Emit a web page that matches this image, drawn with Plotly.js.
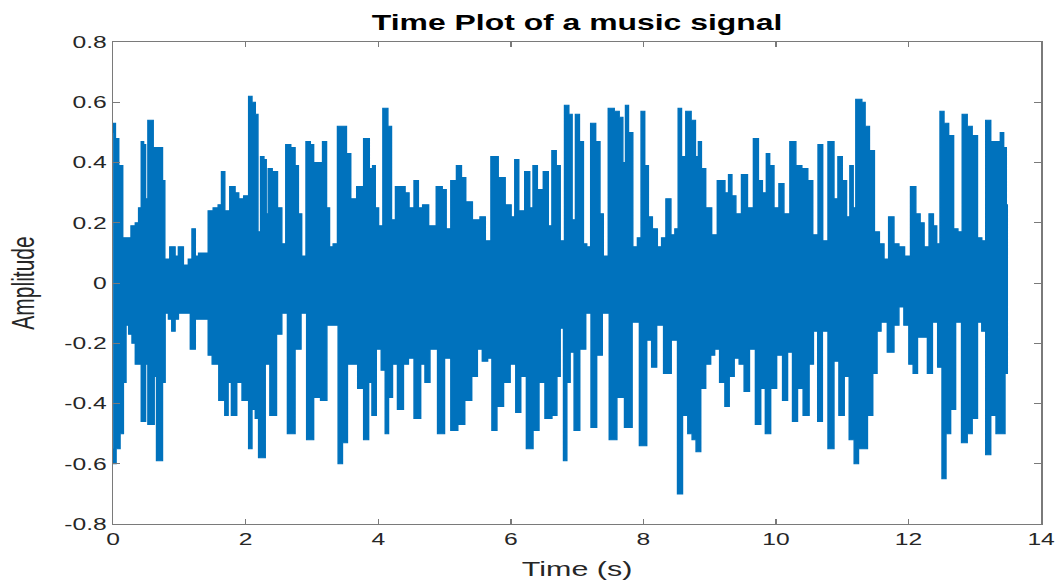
<!DOCTYPE html>
<html>
<head>
<meta charset="utf-8">
<script src="https://cdn.plot.ly/plotly-3.0.1.min.js"></script>
<style>
  html, body { margin: 0; padding: 0; background: #ffffff; overflow: hidden; }
  #wrap { width: 1057px; height: 582px; overflow: hidden; }
  #plot { width: 729px; height: 582px; transform-origin: 0 0; transform: scaleX(1.45); }
</style>
</head>
<body>
<div id="wrap"><div id="plot"></div></div>
<script>
// Upper envelope of the music signal (time in s, amplitude)
const tUpper = [0.00,0.01,0.06,0.11,0.18,0.23,0.31,0.36,0.41,0.44,0.48,0.50,0.55,0.58,0.63,0.68,0.73,0.76,0.80,0.91,0.96,1.01,1.11,1.16,1.22,1.26,1.32,1.41,1.46,1.56,1.61,1.66,1.71,1.81,1.87,1.92,2.02,2.07,2.12,2.17,2.20,2.25,2.30,2.32,2.36,2.44,2.52,2.57,2.64,2.72,2.77,2.82,2.87,2.95,3.00,3.05,3.12,3.20,3.24,3.29,3.35,3.42,3.49,3.55,3.62,3.73,3.83,3.90,3.93,3.98,4.03,4.11,4.18,4.22,4.30,4.35,4.38,4.43,4.50,4.58,4.63,4.71,4.81,4.94,4.99,5.06,5.13,5.23,5.28,5.36,5.48,5.59,5.64,5.76,5.86,5.97,6.04,6.08,6.16,6.26,6.31,6.36,6.44,6.54,6.59,6.65,6.72,6.77,6.85,6.90,6.95,7.00,7.07,7.12,7.17,7.24,7.32,7.37,7.42,7.52,7.60,7.67,7.71,7.75,7.80,7.88,7.94,7.99,8.05,8.10,8.17,8.25,8.30,8.38,8.45,8.50,8.55,8.60,8.68,8.76,8.81,8.85,8.90,8.98,9.08,9.15,9.20,9.26,9.31,9.36,9.43,9.53,9.61,9.71,9.76,9.83,9.88,9.93,10.01,10.08,10.16,10.26,10.34,10.44,10.52,10.59,10.68,10.73,10.84,10.91,10.96,11.04,11.09,11.14,11.19,11.22,11.27,11.32,11.37,11.45,11.52,11.60,11.66,11.74,11.82,11.89,11.99,12.07,12.15,12.20,12.27,12.35,12.40,12.45,12.50,12.57,12.64,12.72,12.77,12.85,12.92,13.00,13.08,13.13,13.20,13.28,13.36,13.41,13.46,13.49];
const ampUpper = [0.50,0.53,0.48,0.39,0.15,0.15,0.19,0.20,0.25,0.47,0.46,0.28,0.54,0.54,0.45,0.45,0.45,0.34,0.08,0.12,0.09,0.12,0.06,0.08,0.18,0.09,0.10,0.10,0.24,0.25,0.26,0.37,0.24,0.32,0.30,0.28,0.29,0.62,0.60,0.56,0.17,0.42,0.41,0.23,0.38,0.37,0.25,0.13,0.46,0.45,0.39,0.23,0.09,0.47,0.46,0.40,0.40,0.47,0.25,0.12,0.13,0.52,0.52,0.43,0.28,0.32,0.48,0.38,0.39,0.25,0.19,0.58,0.52,0.21,0.32,0.32,0.32,0.30,0.25,0.34,0.25,0.26,0.19,0.32,0.31,0.18,0.34,0.39,0.35,0.27,0.21,0.22,0.14,0.42,0.35,0.26,0.22,0.41,0.24,0.37,0.25,0.39,0.31,0.37,0.19,0.44,0.39,0.14,0.59,0.56,0.21,0.56,0.47,0.13,0.12,0.53,0.47,0.23,0.09,0.58,0.57,0.55,0.40,0.59,0.50,0.12,0.15,0.57,0.39,0.22,0.18,0.12,0.15,0.28,0.16,0.18,0.58,0.42,0.57,0.54,0.42,0.47,0.38,0.25,0.16,0.34,0.34,0.30,0.36,0.29,0.23,0.36,0.25,0.48,0.34,0.30,0.43,0.39,0.25,0.33,0.23,0.47,0.39,0.38,0.34,0.16,0.46,0.14,0.47,0.28,0.42,0.34,0.22,0.39,0.25,0.61,0.61,0.60,0.52,0.44,0.17,0.13,0.08,0.22,0.13,0.12,0.09,0.32,0.23,0.20,0.12,0.23,0.19,0.13,0.57,0.53,0.49,0.18,0.17,0.56,0.52,0.49,0.15,0.14,0.54,0.47,0.47,0.50,0.45,0.26];

// Lower envelope of the music signal (time in s, amplitude)
const tLower = [0.00,0.01,0.08,0.13,0.18,0.21,0.26,0.31,0.36,0.41,0.44,0.48,0.50,0.55,0.61,0.63,0.68,0.73,0.76,0.81,0.86,0.91,0.96,1.01,1.11,1.22,1.26,1.41,1.46,1.53,1.66,1.71,1.76,1.81,1.92,1.97,2.02,2.07,2.12,2.17,2.22,2.27,2.32,2.41,2.52,2.57,2.69,2.80,2.87,2.97,3.08,3.18,3.27,3.37,3.42,3.50,3.57,3.65,3.73,3.83,3.88,3.93,4.01,4.08,4.13,4.18,4.25,4.33,4.43,4.48,4.60,4.68,4.73,4.83,4.96,5.04,5.15,5.25,5.36,5.46,5.53,5.61,5.69,5.74,5.84,5.94,6.04,6.11,6.19,6.28,6.39,6.46,6.57,6.67,6.72,6.77,6.82,6.87,6.92,6.99,7.09,7.17,7.25,7.34,7.42,7.55,7.65,7.78,7.88,8.00,8.10,8.15,8.25,8.36,8.48,8.55,8.63,8.71,8.76,8.83,8.90,8.98,9.05,9.10,9.20,9.26,9.33,9.41,9.48,9.56,9.64,9.74,9.80,9.88,9.96,10.06,10.14,10.21,10.29,10.36,10.46,10.54,10.59,10.67,10.73,10.84,10.91,10.99,11.07,11.14,11.22,11.27,11.34,11.42,11.50,11.55,11.62,11.74,11.82,11.89,11.97,12.04,12.10,12.17,12.25,12.32,12.40,12.48,12.53,12.60,12.67,12.75,12.85,12.92,13.00,13.08,13.13,13.20,13.28,13.36,13.43,13.48,13.49];
const ampLower = [-0.55,-0.60,-0.55,-0.50,-0.33,-0.14,-0.17,-0.20,-0.27,-0.27,-0.46,-0.46,-0.27,-0.47,-0.47,-0.31,-0.59,-0.59,-0.33,-0.10,-0.12,-0.16,-0.12,-0.10,-0.10,-0.22,-0.12,-0.12,-0.24,-0.27,-0.39,-0.44,-0.33,-0.44,-0.33,-0.39,-0.39,-0.55,-0.42,-0.45,-0.58,-0.58,-0.27,-0.44,-0.17,-0.10,-0.50,-0.22,-0.10,-0.52,-0.38,-0.39,-0.14,-0.14,-0.60,-0.53,-0.27,-0.27,-0.35,-0.52,-0.33,-0.44,-0.22,-0.29,-0.50,-0.38,-0.27,-0.42,-0.27,-0.25,-0.45,-0.27,-0.33,-0.22,-0.50,-0.25,-0.49,-0.47,-0.39,-0.31,-0.22,-0.26,-0.25,-0.49,-0.41,-0.33,-0.27,-0.43,-0.31,-0.55,-0.49,-0.33,-0.45,-0.44,-0.31,-0.15,-0.59,-0.33,-0.23,-0.49,-0.22,-0.10,-0.48,-0.24,-0.10,-0.52,-0.38,-0.48,-0.13,-0.54,-0.19,-0.28,-0.14,-0.30,-0.19,-0.70,-0.44,-0.50,-0.52,-0.56,-0.35,-0.27,-0.24,-0.22,-0.33,-0.41,-0.31,-0.25,-0.27,-0.36,-0.22,-0.47,-0.35,-0.50,-0.35,-0.24,-0.39,-0.23,-0.46,-0.35,-0.44,-0.27,-0.16,-0.46,-0.16,-0.55,-0.26,-0.44,-0.31,-0.52,-0.60,-0.55,-0.55,-0.44,-0.30,-0.16,-0.13,-0.23,-0.14,-0.08,-0.14,-0.27,-0.30,-0.18,-0.18,-0.30,-0.13,-0.28,-0.65,-0.50,-0.42,-0.13,-0.53,-0.50,-0.45,-0.13,-0.16,-0.57,-0.44,-0.50,-0.50,-0.30,-0.30];

// Tick labels
const xTickVals = [0, 2, 4, 6, 8, 10, 12, 14];
const xTickText = ['0', '2', '4', '6', '8', '10', '12', '14'];
const yTickVals = [0.8, 0.6, 0.4, 0.2, 0, -0.2, -0.4, -0.6, -0.8];
const yTickText = ['0.8', '0.6', '0.4', '0.2', '0', '-0.2', '-0.4', '-0.6', '-0.8'];

const titleText = 'Time Plot of a music signal';
const xTitle = 'Time (s)';
const yTitle = 'Amplitude';

const xs = tUpper.concat(tLower.slice().reverse());
const ys = ampUpper.concat(ampLower.slice().reverse());

const FONT = 'Liberation Sans, Arial, Helvetica, sans-serif';
const WAVE = '#0072BD';

const trace = {
  x: xs,
  y: ys,
  type: 'scatter',
  mode: 'lines',
  fill: 'toself',
  fillcolor: WAVE,
  line: { color: WAVE, width: 1, shape: 'hvh' },
  hoverinfo: 'skip',
  showlegend: false
};

const axisCommon = {
  showgrid: false,
  zeroline: false,
  showline: true,
  linecolor: '#7a7a7a',
  linewidth: 1,
  mirror: 'ticks',
  ticks: 'inside',
  ticklen: 5,
  tickwidth: 1,
  tickcolor: '#7a7a7a',
  tickmode: 'array',
  tickfont: { family: FONT, size: 17, color: '#262626' }
};

const layout = {
  width: 729,
  height: 582,
  margin: { l: 78, r: 11, t: 42, b: 58 },
  paper_bgcolor: '#ffffff',
  plot_bgcolor: '#ffffff',
  title: {
    text: titleText,
    font: { family: FONT, size: 22, weight: 'bold', color: '#000000' },
    xref: 'paper', x: 0.5, xanchor: 'center',
    yref: 'container', y: 0.962, yanchor: 'middle'
  },
  xaxis: Object.assign({}, axisCommon, {
    range: [0, 14],
    tickvals: xTickVals,
    ticktext: xTickText,
    title: { text: xTitle, font: { family: FONT, size: 21, color: '#262626' }, standoff: 12 }
  }),
  yaxis: Object.assign({}, axisCommon, {
    range: [-0.8, 0.8],
    tickvals: yTickVals,
    ticktext: yTickText,
    title: { text: yTitle, font: { family: FONT, size: 21, color: '#262626' }, standoff: 14 }
  })
};

Plotly.newPlot('plot', [trace], layout, { displayModeBar: false, staticPlot: true });
</script>
</body>
</html>
